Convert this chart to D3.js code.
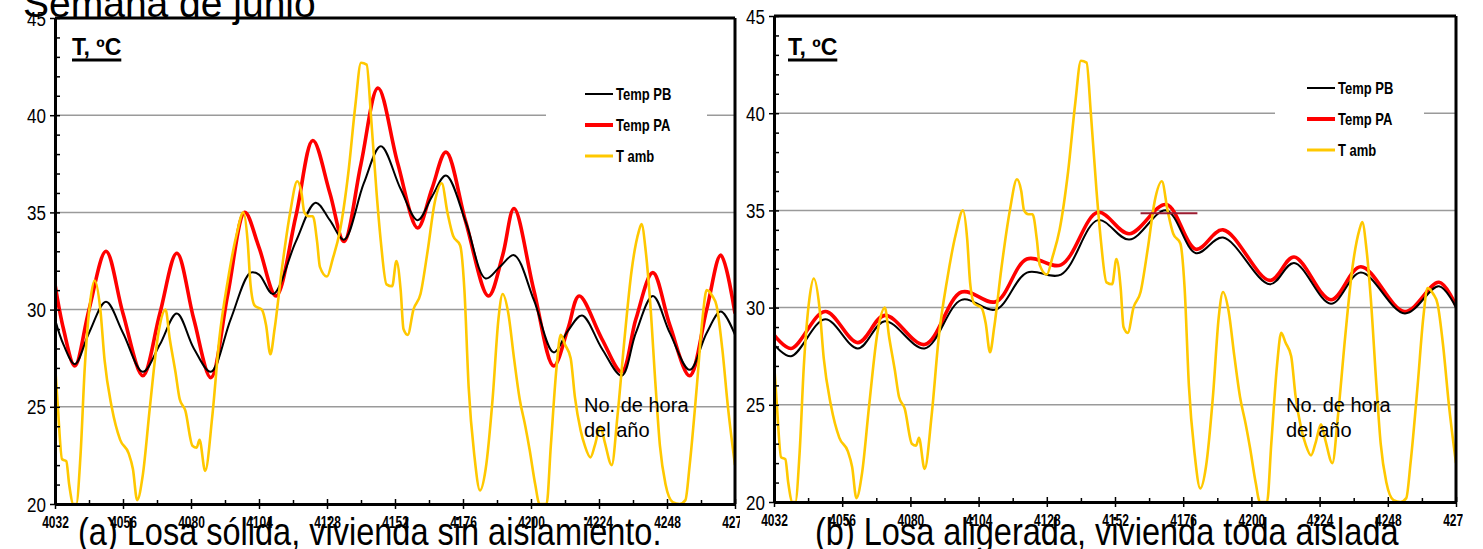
<!DOCTYPE html>
<html>
<head>
<meta charset="utf-8">
<script src="https://cdn.jsdelivr.net/npm/d3@7"></script>
<style>
  body { margin: 0; background: #fff; }
  text { font-family: Arial, "Liberation Sans", sans-serif; }
</style>
</head>
<body>
<svg id="chart" width="1483" height="549"></svg>
<script>
// hour of year axis and temperature axis
const hourDomain = [4032, 4272];
const tempDomain = [20, 45];
const majorHours = d3.range(4032, 4273, 24);
const minorHours = d3.range(4044, 4272, 24);
const majorTemps = [20, 25, 30, 35, 40, 45];
const minorTemps = d3.range(21, 45).filter(d => d % 5 !== 0);
const gridTemps = [25, 30, 35, 40];

// ambient temperature (same in both panels)
const ambHours = [4032, 4033, 4034.5, 4036, 4037, 4038.5, 4039.5, 4041, 4042.5, 4044.5,
  4046, 4048, 4049.5, 4052, 4055, 4058, 4059.5, 4061, 4063, 4065.5,
  4068.5, 4071, 4072.5, 4074.5, 4076, 4078, 4080.5, 4082, 4083, 4085,
  4087.5, 4090, 4093, 4096, 4098.5, 4100, 4101, 4102.5, 4105, 4106.5,
  4108, 4109.5, 4112, 4115, 4117.5, 4119, 4120, 4121.5, 4123, 4124.5,
  4125.5, 4128, 4130, 4132.5, 4135.5, 4138, 4140, 4142, 4143.5, 4145.5,
  4147, 4149, 4151, 4152.5, 4154, 4155, 4156.5, 4158.5, 4161, 4163.5,
  4166, 4168.5, 4170.5, 4172.5, 4175, 4176.5, 4178, 4180, 4182, 4184,
  4186.5, 4188.5, 4190, 4192, 4194, 4196, 4198, 4199.5, 4201.5, 4203,
  4205.5, 4207, 4209, 4210.5, 4212, 4214, 4215.5, 4217.5, 4219, 4221,
  4222.5, 4224.5, 4226, 4228.5, 4230.5, 4233, 4235.5, 4238, 4239, 4240.5,
  4242, 4244, 4245.5, 4247.5, 4250, 4252.5, 4254.5, 4256, 4258.5, 4260.5,
  4262, 4264, 4265.5, 4267.5, 4269.5, 4272];
const ambTemp = [27.2, 25, 22.3, 22.2, 21, 20, 20, 22.5, 27, 30.5,
  31.5, 30, 27.4, 25, 23.3, 22.6, 21.8, 20.2, 21.5, 25,
  28.8, 30, 28.5, 26.8, 25.4, 24.8, 23, 22.9, 23.3, 21.7,
  24.5, 28.5, 31.5, 33.8, 35, 33.5, 31.3, 30.2, 30, 29.2,
  27.7, 29, 32, 35, 36.6, 36, 35, 34.8, 34.8, 33.5,
  32.2, 31.7, 32.6, 34, 37, 40.5, 42.7, 42.6, 40, 36,
  33.5, 31.3, 31.2, 32.5, 31, 29, 28.7, 30, 30.8, 33,
  35.5, 36.5, 35, 33.8, 33.3, 31, 26, 22.5, 20.7, 21.8,
  25.5, 29.5, 30.8, 29.8, 27.5, 25.4, 24, 22.8, 21, 20,
  20, 23, 27, 28.7, 28.2, 27.5, 25.5, 23.8, 23, 22.4,
  23, 24, 23.2, 22, 24.5, 28.5, 32, 34, 34.4, 33,
  30.5, 26, 23, 21, 20.1, 20, 20.2, 22, 26, 29.5,
  31, 30.7, 30.2, 28, 25, 22];

// (a) solid slab, no insulation
const aHoursPB = [4032, 4035, 4039, 4044, 4050, 4056, 4063, 4069, 4075, 4081,
  4087, 4094, 4101, 4104, 4109, 4117, 4124, 4129, 4134, 4141,
  4147, 4154, 4160, 4165, 4170, 4177, 4184, 4189, 4194, 4201,
  4208, 4213, 4218, 4225, 4232, 4237, 4243, 4249, 4256, 4262,
  4267, 4272];
const aTempPB = [29.5, 28.2, 27.2, 28.8, 30.4, 28.8, 26.8, 28.2, 29.8, 28,
  26.8, 29.5, 31.9, 31.8, 30.8, 33.5, 35.5, 34.6, 33.6, 36.5,
  38.4, 36.2, 34.6, 35.8, 36.9, 34.5, 31.6, 32.2, 32.8, 30.5,
  27.8, 28.9, 29.7, 28, 26.6, 28.8, 30.7, 28.8, 26.9, 28.8,
  29.9, 28.7];
const aHoursPA = [4032, 4035, 4039, 4044, 4050, 4056, 4063, 4069, 4075, 4081,
  4087, 4093, 4099, 4104, 4110, 4117, 4123, 4129, 4134, 4140,
  4146, 4153, 4160, 4165, 4170, 4177, 4185, 4190, 4194, 4201,
  4208, 4213, 4217, 4225, 4232, 4237, 4243, 4249, 4256, 4262,
  4267, 4272];
const aTempPA = [31.3, 29, 27.1, 30, 33, 29.8, 26.6, 29.8, 32.9, 29.5,
  26.5, 30.8, 35, 33.2, 30.7, 34.8, 38.7, 36, 33.5, 37.5,
  41.4, 37.5, 34.2, 36.2, 38.1, 34.5, 30.7, 32.8, 35.2, 31,
  27.1, 29, 30.7, 28.5, 26.8, 29.5, 31.9, 29.2, 26.6, 30,
  32.8, 29.8];

// (b) lightened slab, insulated house
const bHours = [4032, 4038, 4050, 4061.5, 4071, 4085, 4098, 4110, 4121, 4133,
  4146, 4157, 4170, 4180.5, 4190, 4206.5, 4215, 4228, 4238.5, 4254,
  4266, 4272];
const bTempPB = [28.1, 27.5, 29.4, 27.9, 29.3, 27.9, 30.4, 29.9, 31.8, 31.7,
  34.5, 33.5, 35, 32.8, 33.6, 31.2, 32.3, 30.2, 31.8, 29.7,
  31.1, 30];
const bTempPA = [28.6, 27.9, 29.8, 28.2, 29.6, 28.1, 30.8, 30.3, 32.5, 32.2,
  34.9, 33.8, 35.3, 33, 34, 31.4, 32.6, 30.4, 32.1, 29.8,
  31.3, 30.1];
const bMarkHours = [4161, 4181];
const bMarkTemp = 34.85;

const legendNames = ["Temp PB", "Temp PA", "T amb"];
const colors = { pb: "#000000", pa: "#ff0000", amb: "#ffc800" };
const STRETCH = 1.22;

const svg = d3.select("#chart");
svg.append("rect").attr("width", 1483).attr("height", 549).attr("fill", "#fff");

function stretchText(g, x, y, str, size, weight, anchor, sy) {
  return g.append("text")
    .attr("transform", "translate(" + x + "," + y + ") scale(1," + (sy || STRETCH) + ")")
    .attr("font-size", size)
    .attr("font-weight", weight || "normal")
    .attr("text-anchor", anchor || "start")
    .attr("fill", "#000")
    .text(str);
}

const panels = [
  { id: "a", bgX: 0, bgW: 740, left: 55, right: 735, top: 18, bottom: 504,
    pbH: aHoursPB, pb: aTempPB, paH: aHoursPA, pa: aTempPA,
    legX: 585, legY: 94, box: [546, 72, 161, 98], unitX: 72, noteX: 584 },
  { id: "b", bgX: 740, bgW: 723, left: 774, right: 1456, top: 16, bottom: 502,
    pbH: bHours, pb: bTempPB, paH: bHours, pa: bTempPA,
    legX: 1307, legY: 88, box: [1275, 66, 149, 98], unitX: 788, noteX: 1286, mark: true }
];

panels.forEach(p => {
  const g = svg.append("g");
  // each chart picture is cut at its own edge
  g.append("clipPath").attr("id", "pic-" + p.id).append("rect")
    .attr("x", p.bgX).attr("y", 0).attr("width", p.bgW).attr("height", 549);
  g.attr("clip-path", "url(#pic-" + p.id + ")");
  g.append("rect").attr("x", p.bgX).attr("y", 0).attr("width", p.bgW).attr("height", 549).attr("fill", "#fff");

  const x = d3.scaleLinear().domain(hourDomain).range([p.left, p.right]);
  const y = d3.scaleLinear().domain(tempDomain).range([p.bottom, p.top]);

  // grid
  g.selectAll("line.grid").data(gridTemps).join("line")
    .attr("class", "grid")
    .attr("x1", p.left).attr("x2", p.right)
    .attr("y1", d => y(d)).attr("y2", d => y(d))
    .attr("stroke", "#9a9a9a").attr("stroke-width", 1.5);

  // legend background hides grid
  g.append("rect").attr("x", p.box[0]).attr("y", p.box[1]).attr("width", p.box[2]).attr("height", p.box[3]).attr("fill", "#fff");

  const clipId = "clip-" + p.id;
  g.append("clipPath").attr("id", clipId).append("rect")
    .attr("x", p.left).attr("y", p.top).attr("width", p.right - p.left).attr("height", p.bottom - p.top);

  const plot = g.append("g").attr("clip-path", "url(#" + clipId + ")");
  const smooth = d3.line().curve(d3.curveCatmullRom.alpha(0.5));
  const mono = d3.line().curve(d3.curveMonotoneX);

  plot.append("path")
    .attr("d", smooth(p.paH.map((h, i) => [x(h), y(p.pa[i])])))
    .attr("fill", "none").attr("stroke", colors.pa).attr("stroke-width", 3.6);
  plot.append("path")
    .attr("d", smooth(p.pbH.map((h, i) => [x(h), y(p.pb[i])])))
    .attr("fill", "none").attr("stroke", colors.pb).attr("stroke-width", 2);
  plot.append("path")
    .attr("d", mono(ambHours.map((h, i) => [x(h), y(ambTemp[i])])))
    .attr("fill", "none").attr("stroke", colors.amb).attr("stroke-width", 2.6);

  if (p.mark) {
    g.append("line")
      .attr("x1", x(bMarkHours[0])).attr("x2", x(bMarkHours[1]))
      .attr("y1", y(bMarkTemp)).attr("y2", y(bMarkTemp))
      .attr("stroke", "#9b1b30").attr("stroke-width", 2);
  }

  // frame top / right
  g.append("line").attr("x1", p.left).attr("x2", p.right).attr("y1", p.top).attr("y2", p.top)
    .attr("stroke", "#000").attr("stroke-width", 3);
  g.append("line").attr("x1", p.right).attr("x2", p.right).attr("y1", p.top).attr("y2", p.bottom)
    .attr("stroke", "#000").attr("stroke-width", 3);

  // x axis
  const xMinor = g.append("g").attr("transform", "translate(0," + p.bottom + ")")
    .call(d3.axisBottom(x).tickValues(minorHours).tickSize(-4).tickSizeOuter(0).tickFormat(""));
  xMinor.select(".domain").remove();
  xMinor.selectAll(".tick line").attr("stroke-width", 1.5);

  const xAxis = g.append("g").attr("transform", "translate(0," + p.bottom + ")")
    .call(d3.axisBottom(x).tickValues(majorHours).tickSize(5).tickSizeOuter(0).tickFormat(d3.format("d")));
  xAxis.select(".domain").attr("stroke-width", 3);
  xAxis.selectAll(".tick line").attr("y1", -5).attr("y2", 5).attr("stroke-width", 1.5);
  xAxis.selectAll(".tick text")
    .attr("y", 0).attr("dy", 0)
    .attr("transform", "translate(0,24) scale(1,1.3)")
    .attr("font-family", "Arial, 'Liberation Sans', sans-serif")
    .attr("font-size", 12).attr("font-weight", "bold").attr("fill", "#000");

  // y axis
  const yMinor = g.append("g").attr("transform", "translate(" + p.left + ",0)")
    .call(d3.axisLeft(y).tickValues(minorTemps).tickSize(-5).tickSizeOuter(0).tickFormat(""));
  yMinor.select(".domain").remove();
  yMinor.selectAll(".tick line").attr("stroke-width", 1.5);

  const yAxis = g.append("g").attr("transform", "translate(" + p.left + ",0)")
    .call(d3.axisLeft(y).tickValues(majorTemps).tickSize(5).tickSizeOuter(0));
  yAxis.select(".domain").attr("stroke-width", 3);
  yAxis.selectAll(".tick line").attr("x1", -5).attr("x2", 5).attr("stroke-width", 1.5);
  yAxis.selectAll(".tick text")
    .attr("x", 0).attr("dy", 0)
    .attr("transform", "translate(-9,7) scale(1," + STRETCH + ")")
    .attr("font-family", "Arial, 'Liberation Sans', sans-serif")
    .attr("font-size", 17).attr("fill", "#000");

  // legend
  const keys = ["pb", "pa", "amb"];
  const widths = { pb: 2, pa: 4, amb: 3 };
  keys.forEach((k, i) => {
    const ly = p.legY + i * 31;
    g.append("line").attr("x1", p.legX).attr("x2", p.legX + 28).attr("y1", ly).attr("y2", ly)
      .attr("stroke", colors[k]).attr("stroke-width", widths[k]);
    stretchText(g, p.legX + 31, ly + 6, legendNames[i], 13, "bold");
  });

  // unit label
  const unit = g.append("text").attr("x", p.unitX).attr("y", 55)
    .attr("font-size", 23).attr("font-weight", "bold").text("T, ºC");
  const uw = unit.node().getComputedTextLength();
  g.append("line").attr("x1", p.unitX).attr("x2", p.unitX + uw).attr("y1", 60).attr("y2", 60)
    .attr("stroke", "#000").attr("stroke-width", 3);

  // axis note
  g.append("text").attr("x", p.noteX).attr("y", 412).attr("font-size", 20).text("No. de hora");
  g.append("text").attr("x", p.noteX).attr("y", 437).attr("font-size", 20).text("del año");
});

// page text around the figure
svg.append("text").attr("x", 23).attr("y", 17).attr("font-size", 39).attr("fill", "#000").text("Semana de junio");
stretchText(svg, 78, 545, "(a) Losa sólida, vivienda sin aislamiento.", 32.5, "normal");
stretchText(svg, 815, 545, "(b) Losa aligerada, vivienda toda aislada", 32.5, "normal");
</script>
</body>
</html>
